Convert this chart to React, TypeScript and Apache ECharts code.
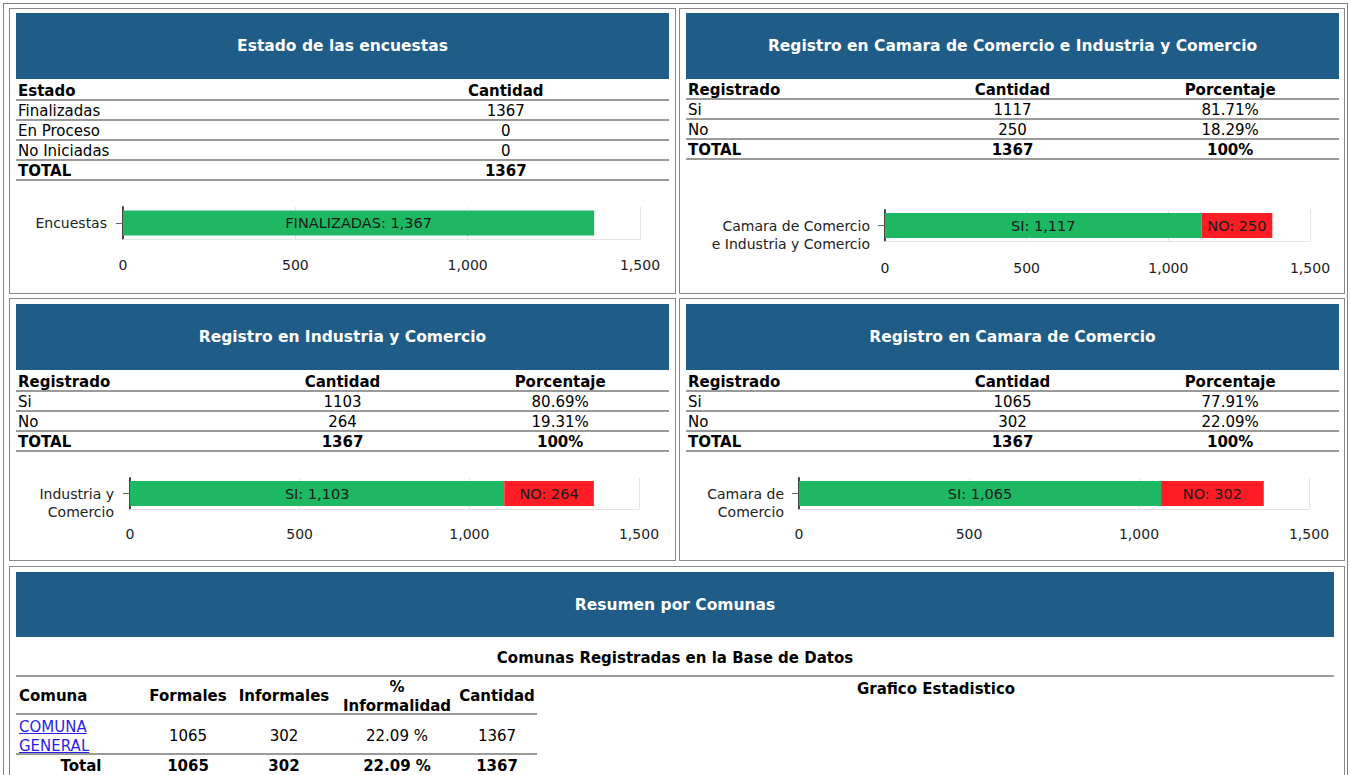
import React, { useEffect, useRef } from "react";
import * as echarts from "echarts";

const FONT = '"DejaVu Sans", Verdana, sans-serif';

// ---- data ----
const estadoLabels = ["Finalizadas", "En Proceso", "No Iniciadas"];
const estadoValues = [1367, 0, 0];
const estadoTotal = 1367;

const registroLabels = ["Si", "No"];
const ccicValues = [1117, 250];
const ccicPercents = ["81.71%", "18.29%"];
const icValues = [1103, 264];
const icPercents = ["80.69%", "19.31%"];
const ccValues = [1065, 302];
const ccPercents = ["77.91%", "22.09%"];
const registroTotal = 1367;
const totalPercent = "100%";

const estadoSeriesNames = ["FINALIZADAS"];
const registroSeriesNames = ["SI", "NO"];
const axisMin = 0;
const axisMax = 1500;
const axisStep = 500;

const comunaNames = ["COMUNA GENERAL"];
const comunaFormales = [1065];
const comunaInformales = [302];
const comunaPctInformalidad = ["22.09 %"];
const comunaCantidad = [1367];

const GREEN = "#1db861";
const RED = "#ff1c24";
const BLUE = "#1f5c88";
const LINE = "#9a9a9a";

type Grid = { left: number; top: number; width: number; height: number };

function BarChart(props: {
  left: number; top: number; width: number; height: number;
  category: string; names: string[]; values: number[]; colors: string[];
  grid: Grid; labelMargin: number; catMargin: number;
}) {
  const ref = useRef<HTMLDivElement>(null);
  useEffect(() => {
    const chart = echarts.init(ref.current!, null, { renderer: "svg" });
    chart.setOption({
      animation: false,
      textStyle: { fontFamily: FONT },
      grid: { ...props.grid, containLabel: false },
      xAxis: {
        type: "value", min: axisMin, max: axisMax, interval: axisStep,
        axisLine: { show: true, lineStyle: { color: "#e4e4e4", width: 1 } },
        axisTick: { show: false },
        splitLine: { show: true, lineStyle: { color: "#e4e4e4", width: 1 } },
        axisLabel: {
          margin: props.labelMargin, fontSize: 14, color: "#222", fontFamily: FONT,
          formatter: (v: number) => v.toLocaleString("en-US"),
        },
      },
      yAxis: {
        type: "category", data: [props.category],
        axisLine: { show: true, lineStyle: { color: "#444", width: 2 } },
        axisTick: { show: true, alignWithLabel: true, length: 7, lineStyle: { color: "#666" } },
        axisLabel: {
          margin: props.catMargin, fontSize: 14, color: "#222", fontFamily: FONT, lineHeight: 18,
          formatter: (v: string) => (v.indexOf("\n") >= 0 ? "\n" + v : v),
        },
      },
      series: props.names.map((n, i) => ({
        name: n, type: "bar", stack: "total", barWidth: 25,
        data: [props.values[i]],
        itemStyle: { color: props.colors[i] },
        label: {
          show: true, position: "inside", color: "#1a1a1a", fontSize: 14.5, fontFamily: FONT,
          formatter: (p: any) => `${n}: ${Number(p.value).toLocaleString("en-US")}`,
        },
      })),
    });
    return () => chart.dispose();
  }, []);
  return (
    <div ref={ref} style={{ position: "absolute", left: props.left, top: props.top, width: props.width, height: props.height }} />
  );
}

function Txt(p: { x: number; y: number; w?: number; align?: "left" | "center" | "right"; bold?: boolean; size?: number; color?: string; children: React.ReactNode; underline?: boolean }) {
  const w = p.w ?? 300;
  const align = p.align ?? "left";
  const left = align === "center" ? p.x - w / 2 : align === "right" ? p.x - w : p.x;
  return (
    <div style={{
      position: "absolute", left, top: p.y - 9, width: w, height: 20, lineHeight: "20px",
      textAlign: align, fontWeight: p.bold ? "bold" : "normal", fontSize: p.size ?? 15,
      color: p.color ?? "#000", whiteSpace: "nowrap", fontFamily: FONT,
      textDecoration: p.underline ? "underline" : "none",
    }}>{p.children}</div>
  );
}

function Box(p: { x: number; y: number; w: number; h: number; color?: string }) {
  return <div style={{ position: "absolute", left: p.x, top: p.y, width: p.w, height: p.h, border: `1px solid ${p.color ?? "#888"}`, boxSizing: "border-box" }} />;
}

function HLine(p: { x: number; y: number; w: number }) {
  return <div style={{ position: "absolute", left: p.x, top: p.y, width: p.w, height: 2, background: LINE }} />;
}

function Header(p: { x: number; y: number; w: number; h: number; title: string }) {
  return (
    <div style={{
      position: "absolute", left: p.x, top: p.y, width: p.w, height: p.h, background: BLUE,
      color: "#fff", fontWeight: "bold", fontSize: 15.5, fontFamily: FONT,
      display: "flex", alignItems: "center", justifyContent: "center",
    }}>{p.title}</div>
  );
}

function RegistroTable(p: { x: number; y: number; values: number[]; percents: string[] }) {
  const w = 653;
  const col = w / 3;
  const rows: React.ReactNode[] = [];
  const header = ["Registrado", "Cantidad", "Porcentaje"];
  const all: [string, string, string, boolean][] = [
    [header[0], header[1], header[2], true],
    ...registroLabels.map((l, i) => [l, String(p.values[i]), p.percents[i], false] as [string, string, string, boolean]),
    ["TOTAL", String(registroTotal), totalPercent, true],
  ];
  all.forEach((r, i) => {
    const top = p.y + 20 * i;
    rows.push(
      <React.Fragment key={i}>
        <Txt x={p.x + 2} y={top + 10} bold={r[3]}>{r[0]}</Txt>
        <Txt x={p.x + col * 1.5} y={top + 10} align="center" bold={r[3]}>{r[1]}</Txt>
        <Txt x={p.x + col * 2.5} y={top + 10} align="center" bold={r[3]}>{r[2]}</Txt>
        <HLine x={p.x} y={top + 19} w={w} />
      </React.Fragment>
    );
  });
  return <>{rows}</>;
}

export default function App() {
  const estadoRows: [string, string, boolean][] = [
    ["Estado", "Cantidad", true],
    ...estadoLabels.map((l, i) => [l, String(estadoValues[i]), false] as [string, string, boolean]),
    ["TOTAL", String(estadoTotal), true],
  ];

  // comunas table column centers
  const cCom = 81, cFor = 188, cInf = 284, cPct = 397, cCan = 497;

  return (
    <div style={{ position: "absolute", left: 0, top: 0, width: 1351, height: 775, overflow: "hidden", background: "#fff", fontFamily: FONT }}>
      <Box x={3} y={3} w={1345} h={900} color="#808080" />
      <Box x={9} y={8} w={667} h={286} />
      <Box x={679} y={8} w={666} h={286} />
      <Box x={9} y={298} w={667} h={263} />
      <Box x={679} y={298} w={666} h={263} />
      <Box x={9} y={566} w={1336} h={400} />

      {/* Panel 1 */}
      <Header x={16} y={13} w={653} h={66} title="Estado de las encuestas" />
      {estadoRows.map((r, i) => {
        const top = 80 + 20 * i;
        return (
          <React.Fragment key={i}>
            <Txt x={18} y={top + 10} bold={r[2]}>{r[0]}</Txt>
            <Txt x={16 + 653 * 0.75} y={top + 10} align="center" bold={r[2]}>{r[1]}</Txt>
            <HLine x={16} y={top + 19} w={653} />
          </React.Fragment>
        );
      })}
      <BarChart left={16} top={180} width={653} height={110}
        category="Encuestas" names={estadoSeriesNames} values={[estadoValues[0]]} colors={[GREEN]}
        grid={{ left: 107, top: 27, width: 517, height: 32 }} labelMargin={19} catMargin={16} />

      {/* Panel 2 */}
      <Header x={686} y={13} w={653} h={66} title="Registro en Camara de Comercio e Industria y Comercio" />
      <RegistroTable x={686} y={79} values={ccicValues} percents={ccicPercents} />
      <BarChart left={686} top={180} width={653} height={110}
        category={"Camara de Comercio\ne Industria y Comercio"} names={registroSeriesNames} values={ccicValues} colors={[GREEN, RED]}
        grid={{ left: 199, top: 30, width: 425, height: 31 }} labelMargin={20} catMargin={15} />

      {/* Panel 3 */}
      <Header x={16} y={304} w={653} h={66} title="Registro en Industria y Comercio" />
      <RegistroTable x={16} y={371} values={icValues} percents={icPercents} />
      <BarChart left={16} top={455} width={653} height={100}
        category={"Industria y\nComercio"} names={registroSeriesNames} values={icValues} colors={[GREEN, RED]}
        grid={{ left: 114, top: 23, width: 509, height: 31 }} labelMargin={18} catMargin={16} />

      {/* Panel 4 */}
      <Header x={686} y={304} w={653} h={66} title="Registro en Camara de Comercio" />
      <RegistroTable x={686} y={371} values={ccValues} percents={ccPercents} />
      <BarChart left={686} top={455} width={653} height={100}
        category={"Camara de\nComercio"} names={registroSeriesNames} values={ccValues} colors={[GREEN, RED]}
        grid={{ left: 113, top: 23, width: 510, height: 31 }} labelMargin={18} catMargin={15} />

      {/* Panel 5 */}
      <Header x={16} y={572} w={1318} h={65} title="Resumen por Comunas" />
      <Txt x={675} y={657} w={600} align="center" bold>Comunas Registradas en la Base de Datos</Txt>
      <HLine x={16} y={675} w={1318} />
      <Txt x={936} y={688} w={400} align="center" bold>Grafico Estadistico</Txt>

      <Txt x={19} y={695} bold>Comuna</Txt>
      <Txt x={cFor} y={695} w={120} align="center" bold>Formales</Txt>
      <Txt x={cInf} y={695} w={120} align="center" bold>Informales</Txt>
      <Txt x={cPct} y={686} w={140} align="center" bold>%</Txt>
      <Txt x={cPct} y={705} w={140} align="center" bold>Informalidad</Txt>
      <Txt x={cCan} y={695} w={120} align="center" bold>Cantidad</Txt>
      <HLine x={16} y={713} w={521} />
      {comunaNames.map((n, i) => {
        const parts = n.split(" ");
        return (
          <React.Fragment key={i}>
            <Txt x={19} y={726} color="#2a1ee6" underline>{parts[0]}</Txt>
            <Txt x={19} y={745} color="#2a1ee6" underline>{parts.slice(1).join(" ")}</Txt>
            <Txt x={cFor} y={735} w={120} align="center">{comunaFormales[i]}</Txt>
            <Txt x={cInf} y={735} w={120} align="center">{comunaInformales[i]}</Txt>
            <Txt x={cPct} y={735} w={140} align="center">{comunaPctInformalidad[i]}</Txt>
            <Txt x={cCan} y={735} w={120} align="center">{comunaCantidad[i]}</Txt>
          </React.Fragment>
        );
      })}
      <HLine x={16} y={753} w={521} />
      <Txt x={cCom} y={765} w={130} align="center" bold>Total</Txt>
      <Txt x={cFor} y={765} w={120} align="center" bold>{comunaFormales.reduce((a, b) => a + b, 0)}</Txt>
      <Txt x={cInf} y={765} w={120} align="center" bold>{comunaInformales.reduce((a, b) => a + b, 0)}</Txt>
      <Txt x={cPct} y={765} w={140} align="center" bold>{comunaPctInformalidad[0]}</Txt>
      <Txt x={cCan} y={765} w={120} align="center" bold>{comunaCantidad.reduce((a, b) => a + b, 0)}</Txt>
    </div>
  );
}
